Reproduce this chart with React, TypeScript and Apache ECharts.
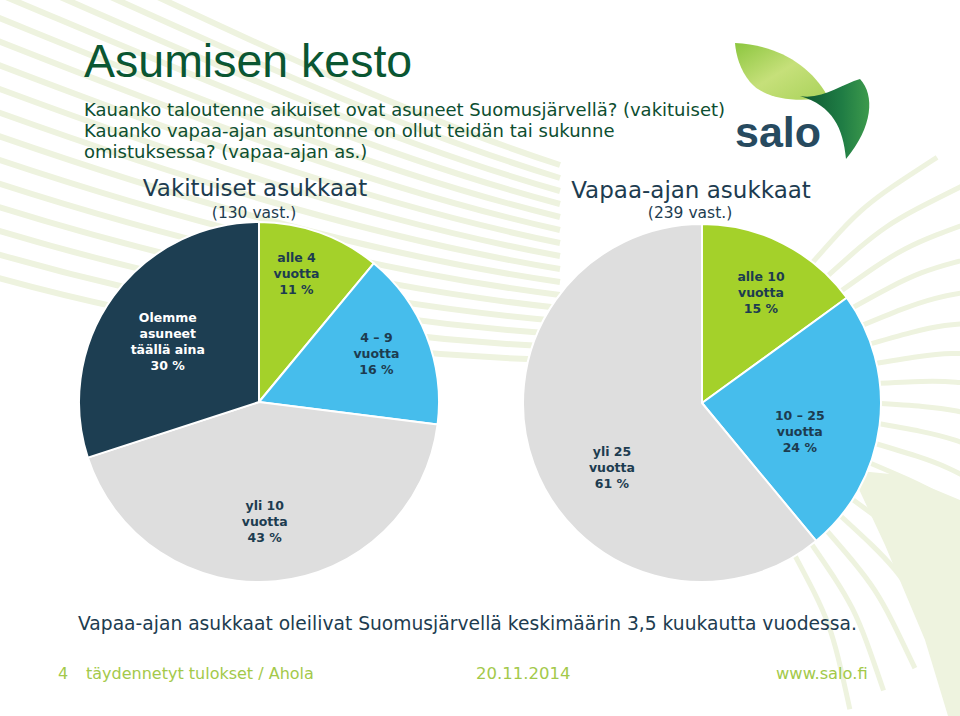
import React, { useEffect, useRef } from 'react';
import * as echarts from 'echarts';

// ---- Data ----
const titleText = 'Asumisen kesto';
const subtitleLines = [
  'Kauanko taloutenne aikuiset ovat asuneet Suomusjärvellä? (vakituiset)',
  'Kauanko vapaa-ajan asuntonne on ollut teidän tai sukunne',
  'omistuksessa? (vapaa-ajan as.)',
];
const leftTitle = 'Vakituiset asukkaat';
const leftCount = '(130 vast.)';
const rightTitle = 'Vapaa-ajan asukkaat';
const rightCount = '(239 vast.)';

const leftCategories = ['alle 4\nvuotta', '4 – 9\nvuotta', 'yli 10\nvuotta', 'Olemme\nasuneet\ntäällä aina'];
const leftValues = [11, 16, 43, 30];
const rightCategories = ['alle 10\nvuotta', '10 – 25\nvuotta', 'yli 25\nvuotta'];
const rightValues = [15, 24, 61];

const footnote = 'Vapaa-ajan asukkaat oleilivat Suomusjärvellä keskimäärin 3,5 kuukautta vuodessa.';
const footerItems = ['4', 'täydennetyt tulokset / Ahola', '20.11.2014', 'www.salo.fi'];

// ---- Styles ----
const GREEN = '#a4d12a';
const BLUE = '#46bdec';
const GRAY = '#dedede';
const NAVY = '#1d3e52';
const TEXT_DARK = '#1d3c50';
const FOOT_GREEN = '#a3c94a';
const leftColors = [GREEN, BLUE, GRAY, NAVY];
const rightColors = [GREEN, BLUE, GRAY];
const leftLabelColors = [TEXT_DARK, TEXT_DARK, TEXT_DARK, '#ffffff'];
const rightLabelColors = [TEXT_DARK, TEXT_DARK, TEXT_DARK];
const leftLabelOffsets = [[6, -41], [31, -14], [-3, 27], [-16, -6]];
const rightLabelOffsets = [[17, -28], [6, 17], [-3, 33]];

const LIGHT_LEAF = 'M735,43 C776,45 810,64 828,97 C800,103 765,100 750,82 C740,70 736,55 735,43 Z';
const DARK_LEAF = 'M800,96 C822,100 842,84 860,79 C875,95 873,127 846,159 C843,128 833,106 800,96 Z';

let registered = false;
function registerShapes() {
  if (registered) return;
  registered = true;
  echarts.graphic.registerShape('leafLight', echarts.graphic.extendPath(LIGHT_LEAF, {}) as any);
  echarts.graphic.registerShape('leafDark', echarts.graphic.extendPath(DARK_LEAF, {}) as any);
}

function textEl(text: string, x: number, y: number, size: number, color: string, family: string, align = 'left', weight = 'normal') {
  return {
    type: 'text',
    x,
    y,
    silent: true,
    style: {
      text,
      fill: color,
      fontSize: size,
      fontFamily: family,
      fontWeight: weight,
      align,
      textAlign: align,
      verticalAlign: 'middle',
      textVerticalAlign: 'middle',
    },
  };
}

function backgroundStripes() {
  const els: any[] = [];
  const stroke = '#eef3df';
  // top-left sweeping stripes
  for (let i = 0; i < 16; i++) {
    els.push({
      type: 'bezierCurve',
      silent: true,
      z: -10,
      shape: {
        x1: -30, y1: -90 + i * 24,
        cpx1: 160, cpy1: -5 + i * 22,
        cpx2: 360, cpy2: 100 + i * 17,
        x2: 560, y2: 165 + i * 13,
      },
      style: { stroke, lineWidth: 6, fill: 'none' },
    });
  }
  // right fan stripes
  for (let i = 0; i < 18; i++) {
    const a = (-52 + i * 6.5) * Math.PI / 180;
    const cx = 702, cy = 403;
    const r1 = 170, r2 = 340;
    const x1 = cx + r1 * Math.cos(a), y1 = cy + r1 * Math.sin(a);
    const x2 = cx + r2 * Math.cos(a + 0.1), y2 = cy + r2 * Math.sin(a + 0.1);
    const mx = cx + (r1 + r2) / 2 * Math.cos(a + 0.02), my = cy + (r1 + r2) / 2 * Math.sin(a + 0.02);
    els.push({
      type: 'bezierCurve',
      silent: true,
      z: -10,
      shape: { x1, y1, cpx1: mx, cpy1: my, cpx2: mx, cpy2: my, x2, y2 },
      style: { stroke, lineWidth: 5, fill: 'none' },
    });
  }
  // bottom-right swoosh
  els.push({
    type: 'polygon',
    silent: true,
    z: -10,
    shape: { points: [[850, 470], [900, 475], [960, 500], [960, 716], [948, 716], [925, 640], [885, 545]] },
    style: { fill: '#eef3df' },
  });
  return els;
}

function pieSeries(
  name: string,
  cats: string[],
  vals: number[],
  colors: string[],
  labelColors: string[],
  offsets: number[][],
  center: number[],
  radius: number,
) {
  return {
    type: 'pie',
    name,
    center,
    radius,
    startAngle: 90,
    clockwise: true,
    silent: true,
    avoidLabelOverlap: false,
    labelLine: { show: false },
    emphasis: { disabled: true },
    itemStyle: { borderColor: '#ffffff', borderWidth: 2 },
    label: {
      show: true,
      position: 'inside',
      formatter: (p: any) => `${p.name}\n${p.value} %`,
      fontFamily: 'DejaVu Sans',
      fontWeight: 'bold',
      fontSize: 12.5,
      lineHeight: 16,
      align: 'center',
    },
    data: cats.map((c, i) => ({
      name: c,
      value: vals[i],
      itemStyle: { color: colors[i] },
      label: { color: labelColors[i], offset: offsets[i] },
    })),
  };
}

export default function App() {
  const ref = useRef<HTMLDivElement>(null);
  useEffect(() => {
    if (!ref.current) return;
    registerShapes();
    const chart = echarts.init(ref.current, null, { renderer: 'svg' });
    const graphics: any[] = [
      ...backgroundStripes(),
      textEl(titleText, 84, 61, 46.5, '#0a5632', 'Liberation Sans'),
      ...subtitleLines.map((l, i) => textEl(l, 84, 109 + i * 21, 18, '#0d4e30', 'DejaVu Sans')),
      textEl(leftTitle, 255, 188, 23, TEXT_DARK, 'DejaVu Sans', 'center'),
      textEl(leftCount, 254, 213, 15.5, TEXT_DARK, 'DejaVu Sans', 'center'),
      textEl(rightTitle, 691, 190, 23, TEXT_DARK, 'DejaVu Sans', 'center'),
      textEl(rightCount, 690, 213, 15.5, TEXT_DARK, 'DejaVu Sans', 'center'),
      textEl(footnote, 78, 623, 18.7, TEXT_DARK, 'DejaVu Sans'),
      textEl(footerItems[0], 58, 673, 16, FOOT_GREEN, 'DejaVu Sans'),
      textEl(footerItems[1], 86, 673, 16, FOOT_GREEN, 'DejaVu Sans'),
      textEl(footerItems[2], 476, 673, 16.5, FOOT_GREEN, 'DejaVu Sans'),
      textEl(footerItems[3], 776, 673, 16.3, FOOT_GREEN, 'DejaVu Sans'),
      {
        type: 'leafLight',
        x: 0,
        y: 0,
        silent: true,
        style: {
          fill: new echarts.graphic.LinearGradient(0, 0, 1, 1, [
            { offset: 0, color: '#8cc63f' },
            { offset: 0.5, color: '#c6e07a' },
            { offset: 1, color: '#a9d25a' },
          ]),
        },
      },
      {
        type: 'leafDark',
        x: 0,
        y: 0,
        silent: true,
        style: {
          fill: new echarts.graphic.LinearGradient(0, 0, 1, 0, [
            { offset: 0, color: '#0c5530' },
            { offset: 0.6, color: '#1f7c44' },
            { offset: 1, color: '#3d9a4c' },
          ]),
        },
      },
      textEl('salo', 735, 132, 43, '#274a5f', 'Liberation Sans', 'left', 'bold'),
    ];
    chart.setOption({
      animation: false,
      backgroundColor: '#ffffff',
      graphic: { elements: graphics },
      series: [
        pieSeries('Vakituiset', leftCategories, leftValues, leftColors, leftLabelColors, leftLabelOffsets, [259, 402], 180),
        pieSeries('Vapaa-ajan', rightCategories, rightValues, rightColors, rightLabelColors, rightLabelOffsets, [702, 403], 179),
      ],
    });
    return () => chart.dispose();
  }, []);
  return <div ref={ref} style={{ position: 'absolute', left: 0, top: 0, width: 960, height: 716 }} />;
}
